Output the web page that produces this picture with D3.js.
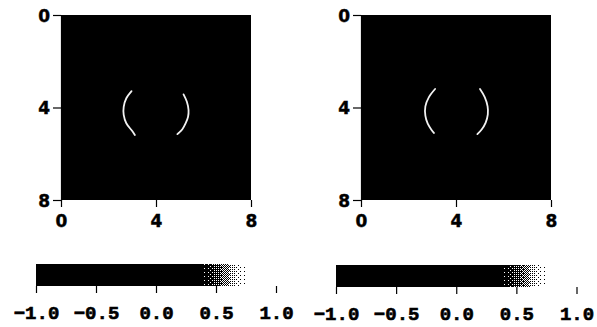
<!DOCTYPE html>
<html>
<head>
<meta charset="utf-8">
<script src="https://cdn.jsdelivr.net/npm/d3@7"></script>
<style>
  html, body { margin: 0; padding: 0; background: #fff; }
  .axis text { font-family: "DejaVu Sans", sans-serif; font-weight: bold; font-size: 17px; fill: #000; stroke: #000; stroke-width: 0.4px; }
  .cbar text { font-family: "Liberation Mono", "Courier New", monospace; font-weight: bold; font-size: 19px; fill: #000; stroke: #000; stroke-width: 0.6px; }
  .axis line, .axis path, .cbar line { stroke: #000; stroke-width: 1.2; }
</style>
</head>
<body>
<svg id="chart" width="597" height="327"></svg>
<script>
// field extent and ticks
const fieldTicks = [0, 4, 8];
const fieldDomain = [0, 8];
const backgroundValue = -1;

// bright arcs, [x, y] in field units (y grows downward)
const leftPanelLeftArc = [[2.97, 3.29], [2.75, 3.60], [2.64, 3.97], [2.64, 4.32], [2.75, 4.68], [3.00, 5.02], [3.11, 5.19]];
const leftPanelRightArc = [[5.16, 3.43], [5.30, 3.75], [5.37, 4.11], [5.35, 4.40], [5.25, 4.68], [5.11, 4.94], [4.90, 5.15]];
const rightPanelLeftArc = [[3.12, 3.20], [2.86, 3.55], [2.71, 3.95], [2.71, 4.35], [2.81, 4.70], [2.98, 4.98], [3.07, 5.10]];
const rightPanelRightArc = [[5.01, 3.20], [5.21, 3.55], [5.33, 3.95], [5.34, 4.30], [5.25, 4.65], [5.08, 4.95], [4.90, 5.15]];

// colour bar: value -> whiteness
const cbarDomain = [-1, 1];
const cbarTicks = [-1, -0.5, 0, 0.5, 1];
const cbarTickLabels = ["\u22121.0", "\u22120.5", "0.0", "0.5", "1.0"];
const cbarStopValues = [-1, 0.35, 0.45, 0.55, 0.62, 0.72, 0.8];
const cbarStopWhite = [0, 0, 0.12, 0.35, 0.7, 0.93, 1];
const cbarEnd = 0.78;

const svg = d3.select('#chart');
const white = d3.scaleLinear().domain(cbarStopValues).range(cbarStopWhite).clamp(true);
const gray = (v) => d3.interpolateRgb('#000', '#fff')(white(v));

// 4x4 ordered dither matrix
const bayer = [[0, 8, 2, 10], [12, 4, 14, 6], [3, 11, 1, 9], [15, 7, 13, 5]];

const panels = [
  { left: 61, arcs: [leftPanelLeftArc, leftPanelRightArc] },
  { left: 361, arcs: [rightPanelLeftArc, rightPanelRightArc] },
];

panels.forEach((p, i) => {
  let x = d3.scaleLinear().domain(fieldDomain).range([p.left, p.left + 190]);
  let y = d3.scaleLinear().domain(fieldDomain).range([15, 200]);

  svg.append('rect')
    .attr('x', x(0)).attr('y', y(0))
    .attr('width', x(8) - x(0)).attr('height', y(8) - y(0))
    .attr('fill', gray(backgroundValue));

  let line = d3.line()
    .x((d) => x(d[0]))
    .y((d) => y(d[1]))
    .curve(d3.curveCatmullRom);

  svg.append('g').selectAll('path')
    .data(p.arcs)
    .enter().append('path')
    .attr('d', line)
    .attr('fill', 'none')
    .attr('stroke', '#f2f2f2')
    .attr('stroke-width', 1.8)
    .attr('stroke-linecap', 'round');

  svg.append('g')
    .attr('class', 'axis')
    .attr('transform', 'translate(' + x(0) + ',0)')
    .call(d3.axisLeft(y).tickValues(fieldTicks).tickFormat(d3.format('d')).tickSize(8).tickSizeOuter(0).tickPadding(3))
    .call((g) => g.selectAll('text').attr('dy', '0.36em'));

  svg.append('g')
    .attr('class', 'axis')
    .attr('transform', 'translate(0,' + y(8) + ')')
    .call(d3.axisBottom(x).tickValues(fieldTicks).tickFormat(d3.format('d')).tickSize(7).tickSizeOuter(0).tickPadding(8))
    .call((g) => g.select('.domain').remove());

  // colour bar
  let cx = d3.scaleLinear().domain(cbarDomain).range([36 + i * 300, 276 + i * 300.5]);
  let top = 264 + i, h = 22;
  let solidEnd = Math.round(cx(cbarStopValues[1]));
  svg.append('rect')
    .attr('x', cx(-1)).attr('y', top)
    .attr('width', solidEnd - cx(-1)).attr('height', h)
    .attr('fill', gray(-1));

  let cells = [];
  for (let px = solidEnd; px < cx(cbarEnd); px++) {
    let v = cx.invert(px + 0.5);
    for (let py = 0; py < h; py++) {
      let t = (bayer[(py + i) % 4][px % 4] + 0.5) / 16;
      if (white(v) < t) cells.push([px, top + py]);
    }
  }
  svg.append('g').selectAll('rect')
    .data(cells)
    .enter().append('rect')
    .attr('x', (d) => d[0]).attr('y', (d) => d[1])
    .attr('width', 1).attr('height', 1)
    .attr('fill', '#000');

  svg.append('g')
    .attr('class', 'cbar')
    .attr('transform', 'translate(0,' + (top + h) + ')')
    .call(d3.axisBottom(cx).tickValues(cbarTicks).tickFormat((d, k) => cbarTickLabels[k]).tickSize(7).tickSizeOuter(0).tickPadding(13))
    .call((g) => g.select('.domain').remove());
});
</script>
</body>
</html>
